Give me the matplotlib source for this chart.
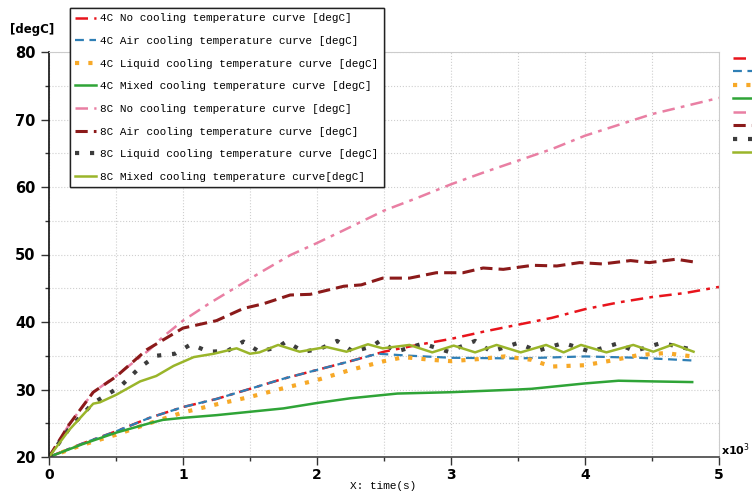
import matplotlib
matplotlib.use("Agg")
from matplotlib import pyplot as plt
from matplotlib.ticker import MultipleLocator

# time axis is in thousands of seconds (x10^3)
t_4c_no = [0, 0.25, 0.5, 0.75, 1.0, 1.25, 1.5, 1.75, 2.0, 2.25, 2.5, 2.75, 3.0, 3.25, 3.5, 3.75, 4.0, 4.25, 4.5, 4.75, 5.0]
y_4c_no = [20, 22.0, 23.8, 25.8, 27.4, 28.6, 30.1, 31.6, 32.9, 34.2, 35.6, 36.6, 37.5, 38.6, 39.6, 40.6, 41.9, 42.9, 43.7, 44.3, 45.2]

t_4c_air = [0, 0.25, 0.5, 0.75, 1.0, 1.25, 1.5, 1.75, 2.0, 2.25, 2.45, 2.7, 3.0, 3.5, 4.0, 4.4, 4.8]
y_4c_air = [20, 22.0, 23.8, 25.8, 27.4, 28.6, 30.1, 31.6, 32.9, 34.2, 35.3, 35.0, 34.7, 34.6, 34.9, 34.7, 34.3]

t_4c_liquid = [0, 0.25, 0.5, 0.75, 1.0, 1.25, 1.5, 1.75, 2.0, 2.25, 2.5, 2.65, 2.85, 3.0, 3.2, 3.4, 3.6, 3.75, 4.0, 4.2, 4.4, 4.6, 4.8]
y_4c_liquid = [20, 21.8, 23.3, 25.0, 26.6, 27.8, 28.9, 30.2, 31.4, 32.9, 34.2, 34.8, 34.4, 34.2, 34.5, 34.9, 34.4, 33.4, 33.6, 34.3, 35.1, 35.4, 34.9]

t_4c_mixed = [0, 0.25, 0.5, 0.75, 0.85, 1.0, 1.25, 1.5, 1.75, 2.0, 2.25, 2.5, 2.6, 3.0, 3.5, 3.6, 4.0, 4.25, 4.5, 4.8]
y_4c_mixed = [20, 21.9, 23.6, 25.0, 25.5, 25.8, 26.2, 26.7, 27.2, 28.0, 28.7, 29.2, 29.4, 29.6, 30.0, 30.1, 30.9, 31.3, 31.2, 31.1]

t_8c_no = [0, 0.15, 0.33, 0.5, 0.75, 0.85, 1.0, 1.2, 1.4, 1.6, 1.8, 2.0, 2.2, 2.5, 2.75, 3.0, 3.25, 3.5, 3.75, 4.0, 4.25, 4.5, 4.75, 5.0]
y_8c_no = [20, 24.8, 29.6, 32.0, 35.9, 37.8, 40.2, 42.8, 45.2, 47.6, 49.9, 51.7, 53.6, 56.5, 58.4, 60.4, 62.2, 63.9, 65.6, 67.6, 69.2, 70.8, 72.0, 73.2]

t_8c_air = [0, 0.15, 0.33, 0.5, 0.73, 1.0, 1.25, 1.45, 1.6, 1.8, 1.95, 2.2, 2.33, 2.49, 2.69, 2.89, 3.09, 3.24, 3.39, 3.61, 3.79, 3.96, 4.13, 4.34, 4.48, 4.68, 4.81]
y_8c_air = [20, 24.8, 29.6, 31.9, 35.9, 39.1, 40.2, 42.0, 42.7, 44.0, 44.1, 45.3, 45.5, 46.5, 46.5, 47.3, 47.3, 48.0, 47.8, 48.4, 48.3, 48.8, 48.6, 49.1, 48.8, 49.3, 48.9]

t_8c_liquid = [0, 0.15, 0.33, 0.53, 0.68, 0.8, 0.94, 1.06, 1.19, 1.33, 1.45, 1.57, 1.71, 1.77, 1.9, 2.02, 2.15, 2.27, 2.41, 2.47, 2.59, 2.79, 2.98, 3.18, 3.3, 3.5, 3.64, 3.84, 4.04, 4.24, 4.37, 4.57, 4.78]
y_8c_liquid = [20, 24.2, 28.0, 30.4, 33.3, 35.0, 35.3, 36.7, 35.6, 35.7, 37.1, 35.6, 36.3, 37.1, 35.6, 36.0, 37.2, 35.6, 36.4, 37.2, 35.6, 36.8, 35.6, 37.2, 35.6, 36.9, 35.7, 36.9, 35.6, 36.8, 35.7, 36.9, 36.0]

t_8c_mixed = [0, 0.15, 0.33, 0.38, 0.5, 0.68, 0.8, 0.93, 1.08, 1.23, 1.4, 1.5, 1.57, 1.71, 1.87, 2.07, 2.22, 2.38, 2.49, 2.69, 2.86, 3.02, 3.18, 3.34, 3.52, 3.71, 3.84, 3.97, 4.16, 4.36, 4.51, 4.66, 4.81]
y_8c_mixed = [20, 24.0, 27.9, 28.1, 29.2, 31.2, 32.0, 33.5, 34.8, 35.3, 36.1, 35.3, 35.5, 36.6, 35.6, 36.3, 35.6, 36.7, 36.1, 36.6, 35.5, 36.5, 35.5, 36.6, 35.5, 36.6, 35.5, 36.6, 35.5, 36.6, 35.6, 36.7, 35.6]

labels = [
    "4C No cooling temperature curve [degC]",
    "4C Air cooling temperature curve [degC]",
    "4C Liquid cooling temperature curve [degC]",
    "4C Mixed cooling temperature curve [degC]",
    "8C No cooling temperature curve [degC]",
    "8C Air cooling temperature curve [degC]",
    "8C Liquid cooling temperature curve [degC]",
    "8C Mixed cooling temperature curve[degC]",
]

fig = plt.figure(figsize=(7.52, 4.93), dpi=100)
ax = fig.add_axes([49 / 752, 1 - 457 / 493, 670 / 752, 405 / 493])

dashdot = (0, (5, 2.5, 1.5, 2.5))
lines = []
lines += ax.plot(t_4c_no, y_4c_no, color="#e8141c", linestyle=dashdot, linewidth=1.8)
lines += ax.plot(t_4c_air, y_4c_air, color="#2f7fb5", linestyle=(0, (4, 2.5)), linewidth=1.6)
lines += ax.plot(t_4c_liquid, y_4c_liquid, color="#f7a928", linestyle=(0, (1, 2.2)), linewidth=3.0)
lines += ax.plot(t_4c_mixed, y_4c_mixed, color="#2fa437", linestyle="-", linewidth=1.8)
lines += ax.plot(t_8c_no, y_8c_no, color="#e97fa3", linestyle=dashdot, linewidth=1.8)
lines += ax.plot(t_8c_air, y_8c_air, color="#8b1a1a", linestyle=(0, (4, 2)), linewidth=2.2)
lines += ax.plot(t_8c_liquid, y_8c_liquid, color="#3c3c3c", linestyle=(0, (1, 2.6)), linewidth=3.0)
lines += ax.plot(t_8c_mixed, y_8c_mixed, color="#9ab52a", linestyle="-", linewidth=1.8)

ax.set_xlim(0, 5)
ax.set_ylim(20, 80)
ax.xaxis.set_major_locator(MultipleLocator(1))
ax.xaxis.set_minor_locator(MultipleLocator(0.5))
ax.yaxis.set_major_locator(MultipleLocator(10))
ax.yaxis.set_minor_locator(MultipleLocator(5))
ax.grid(True, which="both", linestyle=":", color="#cfcfcf", linewidth=0.8)

ax.spines["left"].set_color("#111111")
ax.spines["bottom"].set_color("#444444")
ax.spines["left"].set_linewidth(1.2)
ax.spines["bottom"].set_linewidth(1.2)
ax.spines["top"].set_color("#cccccc")
ax.spines["right"].set_color("#cccccc")

ax.tick_params(axis="both", which="major", direction="out", length=6, width=1, color="#333333")
ax.tick_params(axis="both", which="minor", direction="out", length=3, width=1, color="#333333")
ax.tick_params(axis="x", which="major", pad=2)
for lab in ax.get_yticklabels():
    lab.set_fontweight("bold")
    lab.set_fontsize(10.5)
for lab in ax.get_xticklabels():
    lab.set_fontweight("bold")
    lab.set_fontsize(10)

fig.text(383 / 752, 1 - 486 / 493, "X: time(s)", family=["Liberation Mono", "DejaVu Sans Mono"],
         fontsize=8, ha="center", va="center")
fig.text(10 / 752, 1 - 30 / 493, "[degC]", fontsize=8.5, fontweight="bold", va="center", ha="left")
fig.text(721 / 752, 1 - 450 / 493, r"x10$^{3}$", fontsize=8, fontweight="bold", va="center", ha="left")

leg = ax.legend(lines, labels, loc="upper left", bbox_to_anchor=(70 / 752, 1 - 8 / 493),
                bbox_transform=fig.transFigure, prop={"family": ["Liberation Mono", "DejaVu Sans Mono"], "size": 7.9},
                frameon=True, fancybox=False, edgecolor="#222222", framealpha=1, handlelength=1.9,
                handletextpad=0.35, labelspacing=1.15, borderpad=0.5, borderaxespad=0)
leg.get_frame().set_linewidth(1.0)
ax.add_artist(leg)

fig.legend(lines, [""] * 8, loc="upper left", bbox_to_anchor=(733 / 752, 1 - 54 / 493),
           frameon=False, handlelength=3, prop={"size": 6.5}, labelspacing=0.5, borderpad=0,
           borderaxespad=0, handletextpad=0)

fig.savefig("out.png", dpi=100)
